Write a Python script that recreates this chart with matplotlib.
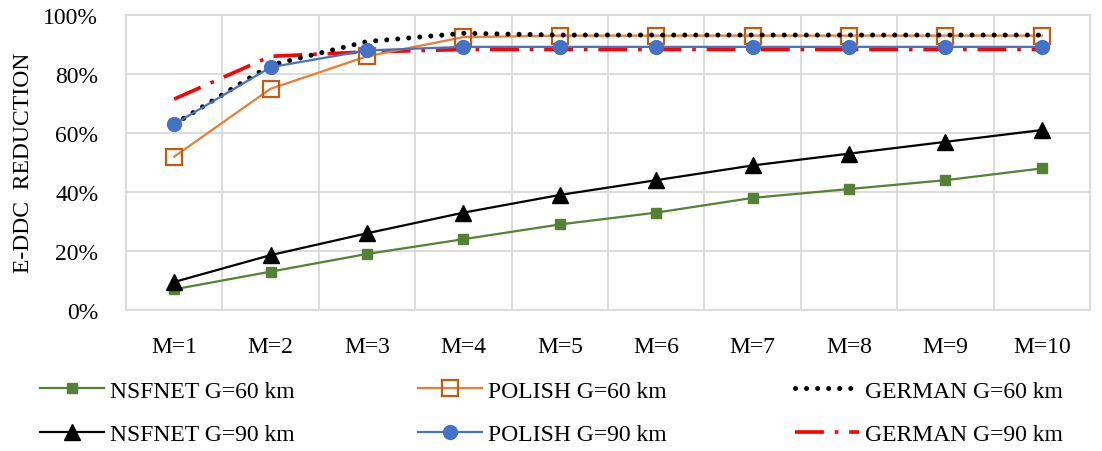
import matplotlib
matplotlib.use("Agg")
import matplotlib.pyplot as plt
from matplotlib.lines import Line2D
from matplotlib.ticker import FuncFormatter

categories = ["M=1", "M=2", "M=3", "M=4", "M=5", "M=6", "M=7", "M=8", "M=9", "M=10"]
nsfnet_60 = [7, 13, 19, 24, 29, 33, 38, 41, 44, 48]
nsfnet_90 = [9.5, 18.6, 26, 33, 39, 44, 49, 53, 57, 61]
polish_60 = [52, 75, 86, 92.5, 93, 93, 93, 93, 93, 93]
polish_90 = [63, 82.3, 88, 89.2, 89.2, 89.2, 89.2, 89.2, 89.2, 89.2]
german_60 = [63, 83, 91, 93.8, 93.2, 93.2, 93.2, 93.2, 93.2, 93.2]
german_90 = [71.5, 86, 87.5, 88.3, 88.3, 88.3, 88.3, 88.3, 88.3, 88.3]
y_ticks = [0, 20, 40, 60, 80, 100]

plt.rcParams['font.family'] = ['Liberation Serif', 'DejaVu Serif']
FS = 17

fig = plt.figure(figsize=(11.02, 4.52), dpi=100)
ax = fig.add_axes([126/1102, 1-311/452, (1090-126)/1102, (311-16)/452])

x = list(range(1, len(categories)+1))

GREEN = '#548235'
ORANGE = '#ED7D31'
ORANGE_E = '#C55A11'
BLUE = '#4472C4'

styles = {}
styles['pol60'] = dict(color=ORANGE, lw=1.6, marker='s', ms=12, mfc='none', mec=ORANGE_E, mew=1.6)
styles['ger90'] = dict(color='#FF0000', lw=2.6, linestyle=(0, (8, 3, 1, 3)))
styles['ger60'] = dict(color='black', lw=3.6, linestyle=(0, (0.01, 2.2)), dash_capstyle='round')
styles['nsf60'] = dict(color=GREEN, lw=1.6, marker='s', ms=7, mfc=GREEN, mec=GREEN)
styles['nsf90'] = dict(color='black', lw=1.6, marker='^', ms=12, mfc='black', mec='black')
styles['pol90'] = dict(color=BLUE, lw=1.6, marker='o', ms=10, mfc=BLUE, mec=BLUE)

ax.plot(x, polish_60, zorder=3, **styles['pol60'])
ax.plot(x, german_90, zorder=2, **styles['ger90'])
ax.plot(x, german_60, zorder=4, **styles['ger60'])
ax.plot(x, nsfnet_60, zorder=3, **styles['nsf60'])
ax.plot(x, nsfnet_90, zorder=3, **styles['nsf90'])
ax.plot(x, polish_90, zorder=5, **styles['pol90'])

ax.set_xlim(0.5, len(categories)+0.5)
ax.set_ylim(0, 100)
ax.set_yticks(y_ticks)
ax.yaxis.set_major_formatter(FuncFormatter(lambda v, p: f"{int(v)}%"))
ax.set_xticks(x)
ax.set_xticklabels(categories)
ax.set_xticks([i + 0.5 for i in range(0, len(categories)+1)], minor=True)
ax.tick_params(axis='both', which='both', length=0, labelsize=FS)
ax.tick_params(axis='y', pad=20)
ax.tick_params(axis='x', pad=19)
ax.grid(True, axis='y', which='major', color='#D9D9D9', lw=1.3)
ax.grid(True, axis='x', which='minor', color='#D9D9D9', lw=1.3)
ax.grid(False, axis='x', which='major')
for s in ax.spines.values():
    s.set_color('#D9D9D9')
    s.set_linewidth(1.3)
ax.set_axisbelow(True)

fig.text(24/1102, 1-163/452, "E-DDC  REDUCTION", rotation=90, va='center', ha='center', fontsize=FS)

def h(key):
    return Line2D([], [], **styles[key])

cols = [
    (40, [h('nsf60'), h('nsf90')], ["NSFNET G=60 km", "NSFNET G=90 km"]),
    (418, [h('pol60'), h('pol90')], ["POLISH G=60 km", "POLISH G=90 km"]),
    (795, [h('ger60'), h('ger90')], ["GERMAN G=60 km", "GERMAN G=90 km"]),
]
for xpx, hs, ls in cols:
    fig.legend(hs, ls, loc='upper left', bbox_to_anchor=(xpx/1102, 1-381/452),
               frameon=False, fontsize=FS, handlelength=2.7, handletextpad=0.25,
               labelspacing=0.95, borderaxespad=0, borderpad=0, markerscale=1.0)

fig.savefig("out.png", dpi=100)
